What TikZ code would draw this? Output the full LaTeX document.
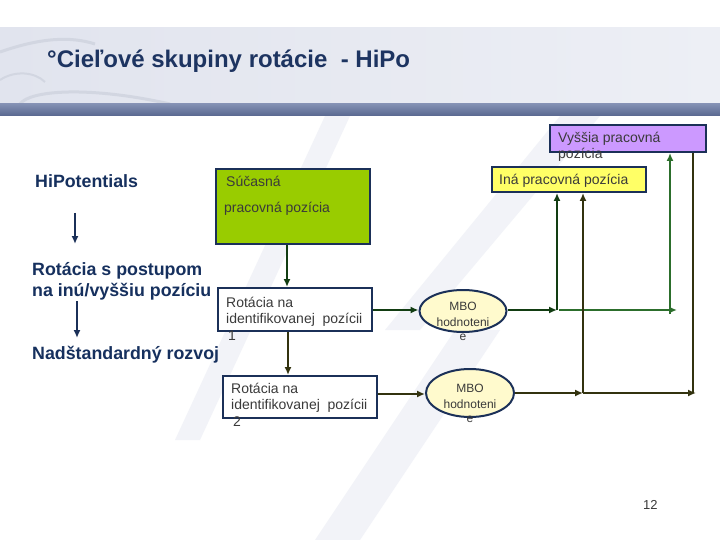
\documentclass[tikz,border=0pt]{standalone}
\usepackage{fontspec}
\setmainfont{Liberation Sans}
\usetikzlibrary{arrows.meta,shapes.geometric}
\definecolor{navy}{HTML}{1B3058}
\definecolor{titlecol}{HTML}{1D3461}
\definecolor{lefttxt}{HTML}{16305E}
\definecolor{txtgray}{HTML}{3A3A3A}
\definecolor{dkgreen}{HTML}{123D12}
\definecolor{medgreen}{HTML}{2C6E2C}
\definecolor{olive}{HTML}{33330F}
\definecolor{boxgreen}{HTML}{99CC00}
\definecolor{boxyellow}{HTML}{FFFF66}
\definecolor{boxlav}{HTML}{CC99FF}
\definecolor{ellfill}{HTML}{FFFACD}
\definecolor{bandL}{HTML}{E1E4EE}
\definecolor{bandR}{HTML}{EDEFF5}
\definecolor{stripeT}{HTML}{8390B3}
\definecolor{stripeB}{HTML}{58678F}
\definecolor{streak}{HTML}{F2F3F8}
\definecolor{swirl}{HTML}{D2D6E1}
\begin{document}
\begin{tikzpicture}[x=1pt,y=-1pt,
  txt/.style={anchor=base west, inner sep=0, font=\fontsize{14}{16}\selectfont, text=txtgray},
  lefthead/.style={anchor=base west, inner sep=0, font=\fontsize{17.8}{20}\selectfont\bfseries, text=lefttxt},
  mbo/.style={anchor=base, inner sep=0, font=\fontsize{12}{14}\selectfont, text=txtgray},
  boxst/.style={draw=navy, line width=2pt, rectangle, inner sep=0},
  ellst/.style={draw=navy, line width=2pt, ellipse, fill=ellfill, inner sep=0},
  arr/.style={-{Latex[length=8pt,width=7pt]}},
  conn/.style={line width=2pt},
]
\useasboundingbox (0,0) rectangle (720,540);
\fill[white] (0,0) rectangle (720,540);
% faint background streaks
\fill[streak] (325,116) -- (350,116) -- (200,440) -- (175,440) -- cycle;
\fill[streak] (560,116) -- (600,116) -- (420,330) -- (385,330) -- cycle;
\fill[streak] (455,330) -- (500,330) -- (360,540) -- (315,540) -- cycle;
% header band
\shade[left color=bandL, right color=bandR] (0,28) rectangle (720,104);
\draw[swirl, line width=3pt] (0,52) .. controls (40,38) and (70,36) .. (95,44);
\draw[swirl, line width=3pt] (20,104) .. controls (30,90) and (90,86) .. (170,104);
\draw[swirl, line width=2pt] (0,80) .. controls (15,70) and (35,72) .. (45,82);
\shade[top color=stripeT, bottom color=stripeB] (0,104) rectangle (720,116);
\node[anchor=base west, inner sep=0, font=\fontsize{24}{28}\selectfont\bfseries, text=titlecol] (title) at (47,68) {°Cieľové skupiny rotácie~~- HiPo};

% left column
\node[lefthead] (hp) at (35,188) {HiPotentials};
\node[lefthead] (rot1) at (32,275) {Rotácia s postupom};
\node[lefthead] (rot2) at (32,296) {na inú/vyššiu pozíciu};
\node[lefthead] (nad) at (32,359) {Nadštandardný rozvoj};
\coordinate (la1) at (75,213);
\coordinate (la2) at (75,244);
\coordinate (lb1) at (77,301);
\coordinate (lb2) at (77,338);
\draw[navy, line width=2pt, arr] (la1) -- (la2);
\draw[navy, line width=2pt, arr] (lb1) -- (lb2);

% boxes
\node[boxst, fill=boxgreen, minimum width=154pt, minimum height=75pt] (g) at (293,206.5) {};
\node[txt] (gt1) at (226,187) {Súčasná};
\node[txt] (gt2) at (224,213) {pracovná pozícia};

\node[boxst, fill=white, minimum width=154pt, minimum height=43pt] (b1) at (295,309.5) {};
\node[txt] (b1t1) at (226,307) {Rotácia na};
\node[txt] (b1t2) at (226,323) {identifikovanej~~pozícii};
\node[txt] (b1t3) at (228,340) {1};

\node[boxst, fill=white, minimum width=154pt, minimum height=42pt] (b2) at (300,397) {};
\node[txt] (b2t1) at (231,393) {Rotácia na};
\node[txt] (b2t2) at (231,409) {identifikovanej~~pozícii};
\node[txt] (b2t3) at (233,426) {2};

\node[boxst, fill=boxyellow, minimum width=154pt, minimum height=25pt] (ina) at (569,179.5) {};
\node[txt] (inat) at (499,185) {Iná pracovná pozícia};

\node[boxst, fill=boxlav, minimum width=156pt, minimum height=27pt] (vys) at (628,138.5) {};
\node[txt] (vyst1) at (558,143) {Vyššia pracovná};
\node[txt] (vyst2) at (558,159) {pozícia};

% ellipses
\node[ellst, minimum width=87pt, minimum height=42pt] (e1) at (463,311) {};
\node[mbo] (e1t1) at (463,310) {MBO};
\node[mbo] (e1t2) at (463,326) {hodnoteni};
\node[mbo] (e1t3) at (463,340) {e};

\node[ellst, minimum width=88pt, minimum height=48pt] (e2) at (470,393) {};
\node[mbo] (e2t1) at (470,392) {MBO};
\node[mbo] (e2t2) at (470,408) {hodnoteni};
\node[mbo] (e2t3) at (470,422) {e};

% page number
\node[anchor=base west, inner sep=0, font=\fontsize{13}{15}\selectfont, text=txtgray] (pg) at (643,509) {12};

% connectors left part
\coordinate (c1) at (287,0);
\coordinate (c2) at (288,0);
\coordinate (r1) at (0,310);
\coordinate (r2) at (0,394);
\draw[dkgreen, conn, arr] (g.south -| c1) -- (b1.north -| c1);
\draw[olive, conn, arr] (b1.south -| c2) -- (b2.north -| c2);
\draw[dkgreen, conn, arr] (b1.east |- r1) -- (e1.west |- r1);
\draw[olive, conn, arr] (b2.east |- r2) -- (e2.west |- r2);

% connectors right part
\coordinate (j1) at (557,310);
\coordinate (j1b) at (559,310);
\coordinate (k1) at (677,310);
\coordinate (v1) at (670,314);
\coordinate (j2) at (583,393);
\coordinate (k2) at (696,393);
\coordinate (v2) at (693,393);
\draw[dkgreen, conn, arr] (e1.east |- j1) -- (j1);
\draw[dkgreen, conn, arr] (j1) -- (ina.south -| j1);
\draw[medgreen, conn, arr] (j1b) -- (k1);
\draw[medgreen, conn, arr] (v1) -- (vys.south -| v1);
\draw[olive, conn, arr] (e2.east |- j2) -- (j2);
\draw[olive, conn, arr] (j2) -- (ina.south -| j2);
\draw[olive, conn, arr] (j2) -- (k2);
\draw[olive, conn] (v2) -- (vys.south -| v2);
\end{tikzpicture}
\end{document}
